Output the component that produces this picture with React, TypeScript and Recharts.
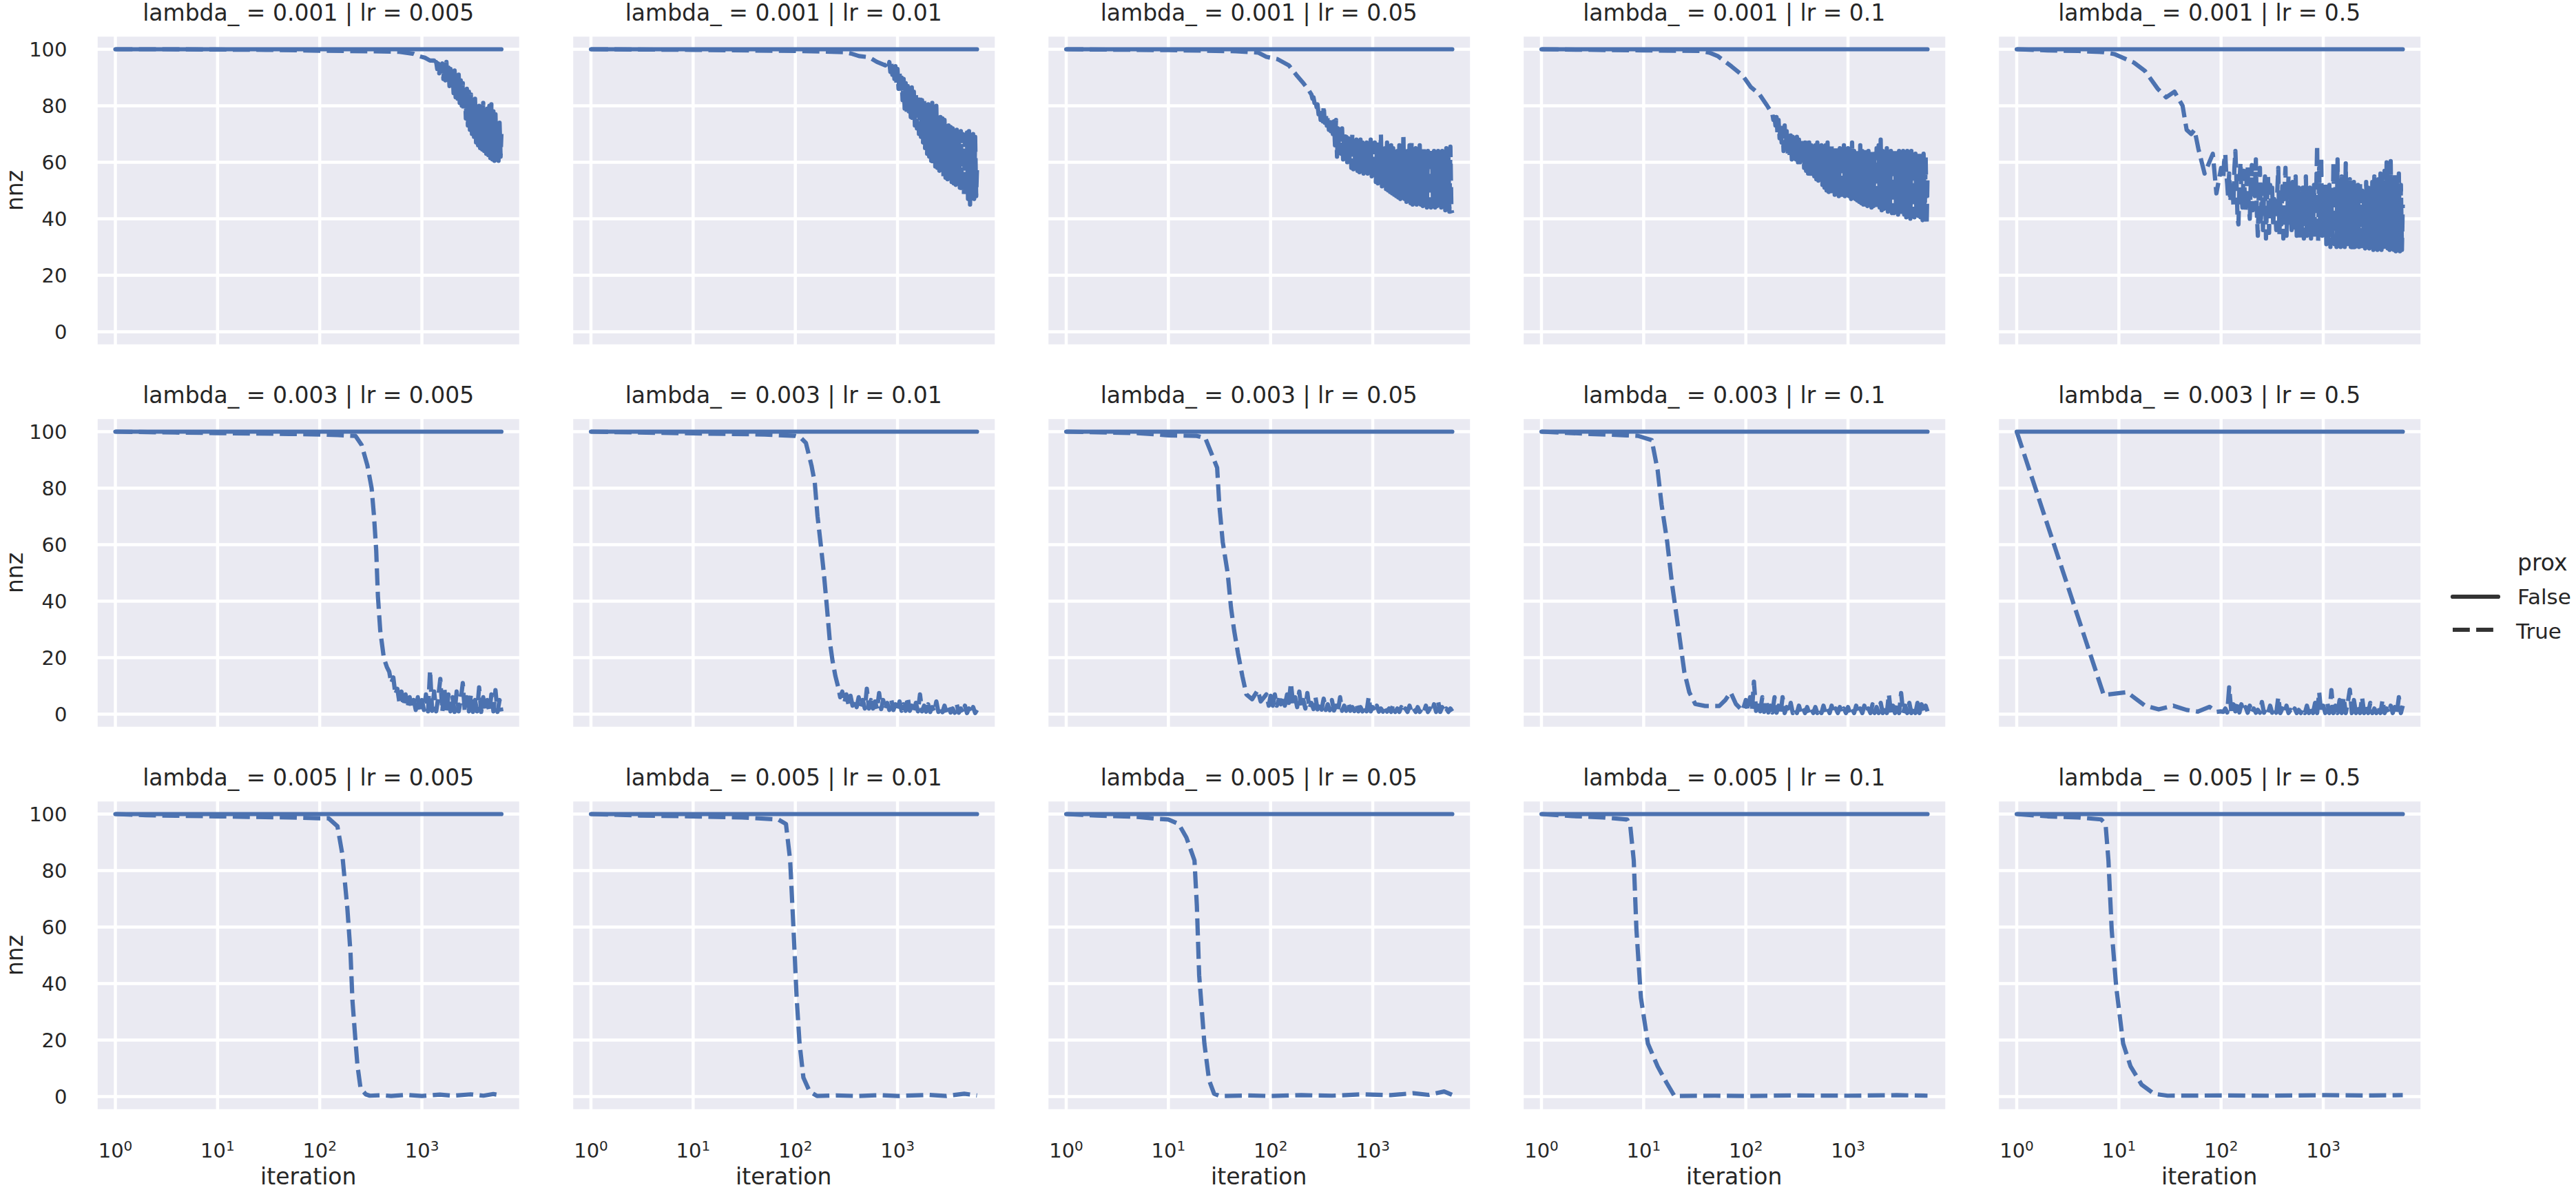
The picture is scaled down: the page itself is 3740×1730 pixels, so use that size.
import React from "react";
import { LineChart, Line, XAxis, YAxis, CartesianGrid } from "recharts";

const FONT = "'DejaVu Sans', sans-serif";
const BLUE = "#4C72B0";
const INK = "#262626";

// facet levels
const lambdas = ["0.001", "0.003", "0.005"];
const learningRates = ["0.005", "0.01", "0.05", "0.1", "0.5"];

const xTicks = [1, 10, 100, 1000];
const xTickExponents = ["0", "1", "2", "3"];
const yTicks = [0, 20, 40, 60, 80, 100];

// prox = False keeps every coefficient
const proxFalseIters = [1, 6000];
const proxFalseNnz = [100, 100];

// logged iterations used by the noisy tails; a tail array fills the last n entries
const tailItersFine = [
  100, 102, 105, 107, 110, 112, 115, 117, 120, 123,
  126, 129, 132, 135, 138, 141, 145, 148, 151, 155,
  158, 162, 166, 170, 174, 178, 182, 186, 191, 195,
  200, 204, 209, 214, 219, 224, 229, 234, 240, 245,
  251, 257, 263, 269, 275, 282, 288, 295, 302, 309,
  316, 324, 331, 339, 347, 355, 363, 372, 380, 389,
  398, 407, 417, 427, 437, 447, 457, 468, 479, 490,
  501, 513, 525, 537, 550, 562, 575, 589, 603, 617,
  631, 646, 661, 676, 692, 708, 724, 741, 759, 776,
  794, 813, 832, 851, 871, 891, 912, 933, 955, 977,
  1000, 1023, 1047, 1072, 1096, 1122, 1148, 1175, 1202, 1230,
  1259, 1288, 1318, 1349, 1380, 1413, 1445, 1479, 1514, 1549,
  1585, 1622, 1660, 1698, 1738, 1778, 1820, 1862, 1905, 1950,
  1995, 2042, 2089, 2138, 2188, 2239, 2291, 2344, 2399, 2455,
  2512, 2570, 2630, 2692, 2754, 2818, 2884, 2951, 3020, 3090,
  3162, 3236, 3311, 3388, 3467, 3548, 3631, 3715, 3802, 3890,
  3981, 4074, 4169, 4266, 4365, 4467, 4571, 4677, 4786, 4898,
  5012, 5129, 5248, 5370, 5495, 5623, 5754, 5888, 6000,
];

const tailIters = [
  100, 105, 110, 115, 120, 126, 132, 138, 145, 151,
  158, 166, 174, 182, 191, 200, 209, 219, 229, 240,
  251, 263, 275, 288, 302, 316, 331, 347, 363, 380,
  398, 417, 437, 457, 479, 501, 525, 550, 575, 603,
  631, 661, 692, 724, 759, 794, 832, 871, 912, 955,
  1000, 1047, 1096, 1148, 1202, 1259, 1318, 1380, 1445, 1514,
  1585, 1660, 1738, 1820, 1905, 1995, 2089, 2188, 2291, 2399,
  2512, 2630, 2754, 2884, 3020, 3162, 3311, 3467, 3631, 3802,
  3981, 4169, 4365, 4571, 4786, 5012, 5248, 5495, 5754, 6000,
];

// prox = True, lambda_ = 0.001 (tails on the fine grid)
const head_001_0005 = [[1, 100], [3, 100], [10, 99.9], [30, 99.8], [100, 99.5], [300, 99.3], [600, 99.1], [830, 98.4], [930, 97.6], [1070, 97], [1200, 96]];
const tail_001_0005 = [
  96, 94, 95.5, 93, 95, 91.5, 94.5, 90.5, 95, 89.5,
  94, 89, 95.5, 88, 93.5, 87, 93, 86, 92, 84.5,
  92.5, 83, 90, 82.5, 91, 81, 89, 80, 88, 78,
  87, 75.5, 86, 73, 85, 71.5, 84, 70, 83, 69,
  82.5, 67, 81, 66, 80, 65, 79.5, 64.5, 81, 64,
  78, 63, 79, 62.5, 80, 61.5, 80.5, 61, 78, 60.5,
  77, 61, 75, 60.5, 74, 62, 70,
];

const head_001_001 = [[1, 100], [10, 99.8], [100, 99.4], [300, 99], [350, 98.5], [420, 97.6], [525, 97.2], [630, 95.5], [760, 94.3]];
const tail_001_001 = [
  95, 93.5, 95.5, 92, 95, 91, 94.5, 89.5, 94, 88,
  93, 86, 92, 85, 90, 82, 89.5, 79, 88, 77,
  87, 78, 86, 76, 86.5, 75, 85, 73, 84, 72,
  83.5, 70, 83, 69, 82, 67, 82.5, 65, 81, 63,
  80.5, 62, 79, 60.5, 81, 59, 78, 58.5, 80, 58,
  77, 57, 76, 56.5, 75.5, 55, 75, 54.5, 74, 54,
  73, 56, 72.5, 53, 72, 52.5, 71, 52, 71.5, 53,
  70, 51, 71, 50, 70, 48.5, 69, 49, 70.5, 47,
  71, 45, 69, 46.5, 70, 47, 69, 48, 58,
];

const head_001_005 = [[1, 100], [10, 99.7], [46, 99.3], [76, 98.8], [91, 97.3], [117, 96.5], [151, 94.3], [178, 91], [206, 88.3], [233, 85.8]];
const tail_001_005 = [
  84, 82.5, 83, 81, 82, 79.5, 80.5, 77, 79, 75,
  78, 74.5, 80, 74, 77, 73, 76, 71.5, 75, 71,
  74, 70, 74.5, 66, 75, 62, 72, 64, 71, 63,
  72, 61, 70, 62, 69, 60, 68.5, 59, 69, 58,
  70, 57.5, 67, 58, 68, 57, 66, 56.5, 68, 57,
  67, 56, 66, 55.5, 67, 56, 65, 55, 68, 55,
  66, 54, 67, 53, 65, 52.5, 68, 52, 70, 51.5,
  66, 51, 65, 50.5, 67, 50, 64, 49.5, 66, 49,
  65, 48.5, 63, 48, 64, 47.5, 66, 47, 67, 48,
  70, 47, 65, 46, 64, 46.5, 66, 45.5, 67, 45,
  64, 46, 65, 45, 63, 46, 66, 45, 64, 44.5,
  65, 45, 63, 44, 64, 44.5, 65, 44, 63, 45,
  64, 44, 63, 44.5, 64, 43.5, 62, 44, 64, 44.5,
  63, 43, 65, 44, 63, 42.5, 65.5, 43, 42,
];

const head_001_01 = [[1, 100], [10, 99.6], [36, 99.4], [44, 98.8], [53, 97.6], [72, 94], [93, 90.7], [112, 86.6], [135, 84.2], [162, 80]];
const tail_001_01 = [
  77, 75, 76, 73, 76, 70, 75, 68.5, 74, 67,
  72, 64, 73, 65, 71, 63, 70, 62, 69.5, 61,
  69, 62, 68, 61, 69, 60, 68, 60, 67, 59,
  68, 58, 67, 57, 68, 56, 67, 55, 66, 56,
  67, 55, 66, 54, 67, 53.5, 65, 54, 66, 52,
  65, 51, 66, 50, 67, 49.5, 64, 49, 66, 50,
  63, 48.5, 65, 49, 64, 48, 65, 47.5, 64, 47,
  66, 48, 63, 47.5, 65, 48, 64, 47, 67, 48,
  64, 47, 65, 46.5, 63, 46, 66, 45.5, 64, 45,
  65, 45, 63, 44.5, 64, 45, 62, 44, 64, 44.5,
  63, 44, 65, 43.5, 66, 44, 68, 43, 64, 43.5,
  63, 43, 65, 42.5, 63, 43, 64, 42, 63, 42,
  64, 42.5, 63, 41.5, 64, 42, 62, 41, 64, 41.5,
  63, 40.5, 64, 41, 63, 40, 64, 41, 62, 40.5,
  63, 40, 62, 41, 63, 40.5, 62, 39.5, 63, 40,
  62, 38, 55,
];

const head_001_05 = [[1, 100], [2, 99.6], [4, 99.4], [7, 99], [9, 98.3], [14, 95.3], [18, 92.3], [24, 86], [29, 83], [35, 85], [42, 80], [46, 71.5], [51, 70], [55, 71.5], [60, 64.7], [69, 56], [83, 63], [90, 49]];
const tail_001_05 = [
  58, 56, 54, 60, 63, 57, 52, 48, 56, 46,
  50, 53, 45, 58, 64, 55, 40, 38, 52, 60,
  48, 44, 57, 50, 43, 55, 59, 46, 40, 52,
  59, 43, 55, 48, 61, 42, 34, 50, 58, 38,
  52, 36, 49, 55, 33, 47, 55, 35, 52, 40,
  51, 37, 47, 42, 36, 50, 58, 34, 45, 38,
  53, 33, 50, 58, 34, 44, 55, 37, 48, 36,
  53, 36, 50, 55, 34, 46, 51, 33, 49, 35,
  51, 33, 47, 55, 34, 50, 36, 51, 33, 48,
  35, 52, 33, 47, 66, 32, 58, 36, 62, 34,
  50, 36, 53, 31, 48, 33, 52, 30, 46, 34,
  60, 31, 52, 30, 61, 32, 49, 30, 55, 31,
  52, 30, 59.6, 31, 50, 29.8, 54, 30, 51, 29,
  53, 30, 48, 29.5, 52, 30, 53, 29, 50, 30,
  49, 29.5, 53, 30, 51, 29.5, 50, 30, 53, 29,
  55, 30, 52, 29, 54, 29.5, 56, 29, 53, 30,
  57, 29, 60, 29.5, 55, 29, 60.4, 30, 54, 29,
  56, 28.5, 53, 29, 56, 28.5, 52, 29, 45,
];

// prox = True, lambda_ = 0.003 (tails on the coarse grid)
const head_003_0005 = [[1, 100], [10, 99.5], [50, 99.2], [100, 99], [150, 98.8], [224, 98.5], [257, 95.3], [293, 88], [322, 80], [340, 70], [357, 58], [371, 41.8], [391, 29.6], [424, 19.9], [455, 16.6]];
const tail_003_0005 = [
  15, 11, 13, 7, 9, 4, 8, 3, 7, 2.5,
  6, 2, 5, 1.5, 6, 1.2, 5, 1.5, 7, 1,
  15.5, 1.2, 8, 1, 6, 12.5, 1, 9, 0.8, 7,
  1, 6, 0.8, 8, 1, 5, 11, 0.8, 6, 1,
  7, 0.8, 5, 1, 9.5, 0.8, 6, 1, 5, 0.8,
  7, 1, 8.5, 0.8, 5, 1,
];

const head_003_001 = [[1, 100], [10, 99.4], [50, 99], [100, 98.5], [112, 98], [127, 96], [144, 88], [155, 82], [165, 70], [178, 59.6], [190, 50], [204, 37.7], [218, 25.5], [231, 19], [247, 13.4]];
const tail_003_001 = [
  9.5, 6, 8, 4, 7, 3.5, 6.5, 3, 5, 2.5,
  6, 2.5, 5, 2, 9, 2, 5, 2, 4.5, 1.8,
  7.5, 1.8, 5, 1.6, 4, 1.5, 5, 1.5, 3.5, 1.4,
  4.5, 1.2, 3.5, 1.2, 6, 1.2, 3, 1, 4, 1,
  7, 1, 3, 0.9, 3.5, 0.8, 2.5, 0.8, 4.5, 0.8,
  2.5, 0.7, 3, 0.6, 2.5, 0.6, 2, 0.5, 3.5, 0.5,
  2, 0.5, 3, 0.4, 2, 0.4, 2.5, 0.4, 1.5,
];

const head_003_005 = [[1, 100], [5, 99.5], [10, 98.7], [19, 98.5], [23, 97.7], [26, 92.9], [30, 87.2], [31.5, 74], [34, 61], [38, 50], [41, 37.7], [44, 29.6], [48, 21.5], [53, 13.4], [58, 7], [66, 5.3], [75, 8.5], [80, 4.5], [91, 7], [96, 3]];
const tail_003_005 = [
  6.5, 3, 7, 3, 5, 3.5, 6, 3, 7, 4,
  11, 3.7, 6, 2.5, 8, 2, 5, 2, 7.5, 2,
  4, 1.8, 6, 1.7, 4, 1.6, 5.5, 1.5, 3.5, 1.4,
  5, 1.3, 3, 1.2, 6, 1.2, 3, 1.2, 4, 1.2,
  2.5, 1.1, 3.5, 1, 2.5, 1, 3, 1, 6, 1,
  2.5, 1, 3, 0.9, 2, 0.9, 3, 0.9, 2, 0.8,
  3.5, 0.8, 2, 0.8, 2.5, 0.8, 2, 0.8, 3, 0.8,
  2, 0.8, 2.5, 0.8, 2, 0.8, 3, 0.8, 2, 0.8,
  3.5, 0.8, 4.5, 0.8, 2.5, 0.8, 2, 0.8, 2, 1,
];

const head_003_01 = [[1, 100], [3, 99.2], [6.8, 98.7], [8.8, 98.5], [12, 97], [13.7, 86.4], [15, 74], [17, 61], [19, 45.8], [22, 29.6], [25, 15], [28, 7.7], [32, 3.6], [40, 2.9], [55, 2.9], [63, 5], [71, 7.7], [80, 3.6], [93, 1.2]];
const tail_003_01 = [
  5, 1.2, 6, 1.5, 11.5, 1.2, 4, 1, 6, 0.8,
  5, 0.6, 3, 0.6, 6, 0.5, 3, 0.5, 6, 0.4,
  2.5, 0.4, 4, 0.4, 2, 0.4, 3, 0.4, 2, 0.4,
  2.5, 0.4, 2, 0.4, 2.5, 0.4, 2, 0.4, 3, 0.4,
  2, 0.4, 3, 0.4, 2, 0.4, 2.5, 0.4, 2, 0.4,
  2.5, 0.4, 2, 0.4, 3, 0.4, 2, 0.4, 3, 0.4,
  2, 0.4, 3.5, 0.4, 2.5, 0.4, 4, 0.4, 3, 0.4,
  7, 0.4, 3, 0.4, 4, 0.4, 7.5, 0.4, 3, 0.4,
  4, 0.4, 3, 0.4, 4, 0.4, 3.5, 0.4, 3, 1,
];

const head_003_05 = [[1, 100], [7.1, 6.8], [12, 7.8], [18, 3], [24.5, 1.7], [34, 3], [46, 1.5], [59, 0.9], [77, 2.6], [90, 0.8]];
const tail_003_05 = [
  1, 0.8, 2, 0.6, 9.5, 0.8, 3.5, 1, 4, 0.6,
  3.5, 1, 2.5, 0.5, 3, 0.5, 2, 0.5, 1.5, 0.5,
  4.3, 0.5, 2, 0.5, 3, 0.5, 2.5, 0.5, 6, 0.4,
  2, 0.4, 3, 0.4, 1.5, 0.4, 2, 0.4, 1.5, 0.4,
  2, 0.4, 3, 0.4, 2.5, 0.4, 4, 0.4, 7.8, 0.4,
  3, 0.4, 4, 0.4, 8.5, 0.4, 3, 0.4, 5, 0.4,
  6, 0.4, 4, 8.7, 0.4, 5, 0.4, 3, 0.4, 6,
  0.4, 3, 0.4, 4, 0.4, 2, 0.4, 3, 0.4, 5,
  0.4, 2, 0.4, 3, 0.4, 2.5, 0.4, 6, 0.4, 3,
];

// prox = True, lambda_ = 0.005
const head_005_0005 = [[1, 100], [2, 99.6], [4, 99.4], [10, 99.2], [20, 99], [50, 98.8], [100, 98.5], [122, 98.5], [149, 95.7], [166, 86], [186, 67], [200, 51], [209, 34], [224, 19.6], [234, 11], [251, 2.9], [282, 0.8], [309, 0.3], [400, 0.5], [500, 0.2], [700, 0.6], [1000, 0.2], [1500, 0.7], [2000, 0.3], [3000, 0.8], [4000, 0.3], [5000, 0.9], [6000, 0.4]];
const head_005_001 = [[1, 100], [3, 99.5], [10, 99.2], [30, 98.8], [68, 98.1], [81, 96.5], [89, 83.6], [96, 59.3], [103, 35], [110, 18.8], [120, 6.7], [138, 1.8], [163, 0.2], [250, 0.4], [400, 0.2], [700, 0.5], [1000, 0.2], [2000, 0.6], [3000, 0.2], [4500, 1], [6000, 0.4]];
const head_005_005 = [[1, 100], [2, 99.5], [5, 99], [8, 98.3], [10, 98.1], [12.6, 96.5], [15, 91.7], [18, 83.6], [19, 67.4], [20, 43], [22.5, 18.8], [25, 5.8], [28, 1], [32, 0.2], [60, 0.4], [100, 0.2], [200, 0.5], [400, 0.3], [800, 0.8], [1500, 0.5], [2500, 1.2], [3500, 0.6], [5000, 1.8], [6000, 0.6]];
const head_005_01 = [[1, 100], [2, 99.3], [4, 98.8], [6.9, 98.1], [7.4, 95.7], [8, 83.6], [8.5, 59], [9.4, 35], [11, 18.8], [13.7, 10.7], [16.7, 5], [20, 0.2], [50, 0.3], [100, 0.2], [300, 0.4], [1000, 0.3], [3000, 0.5], [6000, 0.3]];
const head_005_05 = [[1, 100], [2, 99.2], [4, 98.8], [6.7, 98.1], [7.4, 96.5], [7.9, 83.6], [8.5, 59], [9.4, 39], [11, 18.8], [13, 10.7], [16.7, 4.2], [22, 1], [30, 0.3], [100, 0.4], [300, 0.3], [1000, 0.5], [3000, 0.4], [6000, 0.5]];

// row-major: lambda_ rows, lr columns; [head pairs, tail values, tail grid]
const proxTrueRuns: [number[][], number[], number[]][] = [
  [head_001_0005, tail_001_0005, tailItersFine], [head_001_001, tail_001_001, tailItersFine], [head_001_005, tail_001_005, tailItersFine], [head_001_01, tail_001_01, tailItersFine], [head_001_05, tail_001_05, tailItersFine],
  [head_003_0005, tail_003_0005, tailIters], [head_003_001, tail_003_001, tailIters], [head_003_005, tail_003_005, tailIters], [head_003_01, tail_003_01, tailIters], [head_003_05, tail_003_05, tailIters],
  [head_005_0005, [], tailIters], [head_005_001, [], tailIters], [head_005_005, [], tailIters], [head_005_01, [], tailIters], [head_005_05, [], tailIters],
];

// geometry
const PANEL_W = 616.5;
const PANEL_H = 451;
const LEFT0 = 139.5;
const COL_PITCH = 690;
const TOP0 = 51;
const ROW_PITCH = 555;
const X_AXIS_H = 118;
const X_DOMAIN: [number, number] = [0.6474, 9268];
const Y_DOMAIN: [number, number] = [-5, 105];
const LW = 6.2;
const DASH = "24.8 9.3";

const falseData = proxFalseIters.map((x, i) => ({ x, y: proxFalseNnz[i] }));

function buildRun(head: number[][], tail: number[], grid: number[]) {
  const start = grid.length - tail.length;
  return [
    ...head.map(([x, y]) => ({ x, y })),
    ...tail.map((y, i) => ({ x: grid[start + i], y })),
  ];
}

const trueData = proxTrueRuns.map(([h, t, g]) => buildRun(h, t, g));

function PowTick(props: any) {
  const { x, y, payload } = props;
  const idx = xTicks.indexOf(payload.value);
  return (
    <text x={x} y={y + 66} textAnchor="middle" fill={INK} fontFamily={FONT} fontSize={29}>
      <tspan>10</tspan>
      <tspan dy={-10} fontSize={20}>{xTickExponents[idx]}</tspan>
    </text>
  );
}

function Panel({ row, col }: { row: number; col: number }) {
  const showY = col === 0;
  const showX = row === lambdas.length - 1;
  const left = showY ? 0 : LEFT0 + col * COL_PITCH;
  const width = PANEL_W + (showY ? LEFT0 : 0);
  const height = PANEL_H + (showX ? X_AXIS_H : 0);
  const data = trueData[row * learningRates.length + col];
  return (
    <div style={{ position: "absolute", left, top: TOP0 + row * ROW_PITCH }}>
      <LineChart width={width} height={height} margin={{ top: 0, right: 0, bottom: 0, left: 0 }}>
        <CartesianGrid fill="#EAEAF2" fillOpacity={1} stroke="#FFFFFF" strokeWidth={4.5} />
        <XAxis
          type="number"
          dataKey="x"
          scale="log"
          domain={X_DOMAIN}
          allowDataOverflow
          ticks={xTicks}
          interval={0}
          hide={!showX}
          height={X_AXIS_H}
          axisLine={false}
          tickLine={false}
          tickSize={0}
          tick={<PowTick />}
        />
        <YAxis
          type="number"
          domain={Y_DOMAIN}
          allowDataOverflow
          ticks={yTicks}
          interval={0}
          hide={!showY}
          width={LEFT0}
          axisLine={false}
          tickLine={false}
          tickSize={0}
          tickMargin={42}
          tick={{ fontSize: 29, fill: INK, fontFamily: FONT }}
        />
        <Line data={falseData} dataKey="y" stroke={BLUE} strokeWidth={LW} strokeLinecap="round" dot={false} isAnimationActive={false} />
        <Line data={data} dataKey="y" stroke={BLUE} strokeWidth={LW} strokeDasharray={DASH} strokeLinejoin="round" dot={false} isAnimationActive={false} />
      </LineChart>
    </div>
  );
}

export default function App() {
  const panelCx = (c: number) => LEFT0 + c * COL_PITCH + PANEL_W / 2;
  const panelCy = (r: number) => TOP0 + r * ROW_PITCH + PANEL_H / 2;
  return (
    <div style={{ position: "absolute", left: 0, top: 0, width: 3740, height: 1730, background: "#fff", overflow: "hidden" }}>
      {lambdas.map((_, r) => learningRates.map((__, c) => <Panel key={`${r}-${c}`} row={r} col={c} />))}
      <svg width={3740} height={1730} style={{ position: "absolute", left: 0, top: 0, pointerEvents: "none" }} fontFamily={FONT} fill={INK}>
        {lambdas.map((lam, r) =>
          learningRates.map((lr, c) => (
            <text key={`t${r}${c}`} x={panelCx(c)} y={30 + r * ROW_PITCH} textAnchor="middle" fontSize={33}>
              {`lambda_ = ${lam} | lr = ${lr}`}
            </text>
          ))
        )}
        {lambdas.map((_, r) => (
          <text key={`y${r}`} x={33} y={panelCy(r)} textAnchor="middle" fontSize={33} transform={`rotate(-90 33 ${panelCy(r)})`}>
            nnz
          </text>
        ))}
        {learningRates.map((_, c) => (
          <text key={`x${c}`} x={panelCx(c)} y={1719} textAnchor="middle" fontSize={33}>
            iteration
          </text>
        ))}
        <text x={3655} y={828} fontSize={33}>prox</text>
        <line x1={3561} x2={3627} y1={866} y2={866} stroke="#333333" strokeWidth={LW} strokeLinecap="round" />
        <text x={3655} y={877} fontSize={31}>False</text>
        <line x1={3561} x2={3620} y1={914} y2={914} stroke="#333333" strokeWidth={LW} strokeDasharray={DASH} />
        <text x={3653} y={927} fontSize={31}>True</text>
      </svg>
    </div>
  );
}
